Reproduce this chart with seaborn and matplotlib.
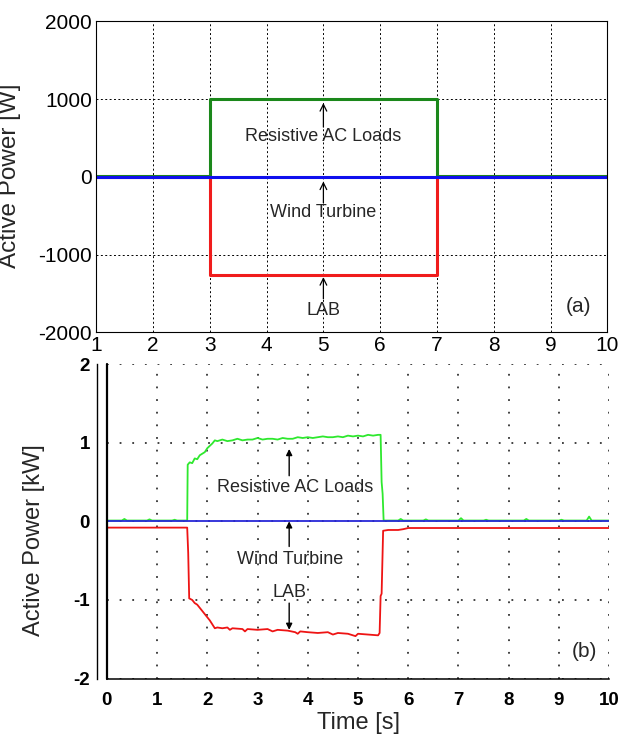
import matplotlib
matplotlib.use("Agg")
import matplotlib.pyplot as plt
import seaborn as sns

# ---- panel (a): simulation, values in W ----
t_a = [1, 3, 3, 7, 7, 10]
loads_a = [15, 15, 1000, 1000, 15, 15]
lab_a = [0, 0, -1260, -1260, 0, 0]
wind_a_t = [1, 10]
wind_a = [0, 0]

# ---- panel (b): experiment, values in kW ----
t_loads_b = [0.0, 0.3, 0.35, 0.4, 0.8, 0.85, 0.9, 1.3, 1.35, 1.4, 1.6, 1.61, 1.65, 1.7,
             1.75, 1.8, 1.85, 1.9, 1.95, 2.0, 2.05, 2.1, 2.15, 2.2, 2.3, 2.4, 2.5, 2.6,
             2.7, 2.8, 2.9, 3.0, 3.1, 3.2, 3.3, 3.4, 3.5, 3.6, 3.7, 3.8, 3.9, 4.0, 4.1,
             4.2, 4.3, 4.4, 4.5, 4.6, 4.7, 4.8, 4.9, 5.0, 5.1, 5.2, 5.3, 5.4, 5.45,
             5.47, 5.49, 5.51, 5.8, 5.85, 5.9, 6.3, 6.35, 6.4, 7.0, 7.05, 7.1, 7.5,
             7.55, 7.6, 8.3, 8.35, 8.4, 9.0, 9.05, 9.1, 9.55, 9.6, 9.65, 10.0]
loads_b = [0.01, 0.01, 0.03, 0.01, 0.01, 0.025, 0.01, 0.01, 0.02, 0.01, 0.01, 0.72, 0.75,
           0.74, 0.80, 0.79, 0.84, 0.86, 0.88, 0.93, 0.96, 0.99, 1.03, 1.02, 1.04, 1.02,
           1.03, 1.05, 1.03, 1.04, 1.04, 1.06, 1.04, 1.05, 1.05, 1.04, 1.06, 1.05, 1.05,
           1.07, 1.06, 1.07, 1.06, 1.07, 1.08, 1.07, 1.07, 1.08, 1.07, 1.09, 1.08, 1.09,
           1.08, 1.10, 1.09, 1.10, 1.10, 0.50, 0.35, 0.01, 0.01, 0.03, 0.01, 0.01, 0.025,
           0.01, 0.01, 0.04, 0.01, 0.01, 0.02, 0.01, 0.01, 0.03, 0.01, 0.01, 0.02, 0.01,
           0.01, 0.06, 0.01, 0.01]

t_lab_b = [0.0, 1.6, 1.62, 1.64, 1.7, 1.75, 1.8, 1.85, 1.9, 1.95, 2.0, 2.05, 2.1, 2.15,
           2.2, 2.3, 2.4, 2.45, 2.5, 2.7, 2.75, 2.8, 3.0, 3.2, 3.3, 3.4, 3.6, 3.75, 3.8,
           3.85, 4.0, 4.2, 4.4, 4.5, 4.6, 4.8, 4.95, 5.0, 5.2, 5.4, 5.43, 5.45, 5.47,
           5.5, 5.6, 5.8, 5.9, 6.0, 10.0]
lab_b = [-0.08, -0.08, -0.40, -0.98, -1.00, -1.04, -1.06, -1.10, -1.14, -1.18, -1.22,
         -1.26, -1.31, -1.36, -1.35, -1.36, -1.35, -1.38, -1.36, -1.37, -1.40, -1.37,
         -1.38, -1.37, -1.40, -1.38, -1.39, -1.41, -1.43, -1.40, -1.41, -1.42, -1.41,
         -1.44, -1.42, -1.43, -1.46, -1.43, -1.44, -1.45, -1.42, -0.95, -0.92, -0.12,
         -0.11, -0.11, -0.10, -0.085, -0.085]

wind_b_t = [0, 10]
wind_b = [0, 0]

sns.set_theme(style="white")
plt.rcParams["font.family"] = ["Liberation Sans", "DejaVu Sans"]
plt.rcParams["axes.unicode_minus"] = False

fig = plt.figure(figsize=(6.21, 7.40), dpi=100)
ax1 = fig.add_axes([0.155, 0.551, 0.823, 0.420])
ax2 = fig.add_axes([0.172, 0.083, 0.809, 0.425])

# ---------- (a) ----------
sns.lineplot(x=t_a, y=loads_a, ax=ax1, color="#1b881b", lw=2.2, sort=False, estimator=None)
sns.lineplot(x=t_a, y=lab_a, ax=ax1, color="#f01c1c", lw=2.2, sort=False, estimator=None)
sns.lineplot(x=wind_a_t, y=wind_a, ax=ax1, color="#1010ee", lw=2.2, sort=False, estimator=None)

ax1.set_xlim(1, 10)
ax1.set_ylim(-2000, 2000)
ax1.set_xticks(range(1, 11))
ax1.set_yticks([-2000, -1000, 0, 1000, 2000])
ax1.grid(True, color="black", linestyle=(0, (2, 2.5)), linewidth=0.7)
for s in ax1.spines.values():
    s.set_visible(True)
    s.set_color("black")
    s.set_linewidth(0.8)
ax1.tick_params(axis="both", direction="in", length=3, labelsize=15, pad=3, colors="black")
ax1.set_ylabel("Active Power [W]", fontsize=17.5)
ax1.yaxis.set_label_coords(-0.147, 0.505)
ax1.set_xlabel("")

arr_a = dict(arrowstyle="->", color="black", lw=0.9, shrinkA=0, shrinkB=0)
ax1.annotate("", xy=(5, 950), xytext=(5, 640), arrowprops=arr_a)
ax1.text(5, 513, "Resistive AC Loads", ha="center", va="center", fontsize=13)
ax1.annotate("", xy=(5, -60), xytext=(5, -335), arrowprops=arr_a)
ax1.text(5, -455, "Wind Turbine", ha="center", va="center", fontsize=13)
ax1.annotate("", xy=(5, -1290), xytext=(5, -1570), arrowprops=arr_a)
ax1.text(5, -1720, "LAB", ha="center", va="center", fontsize=13)
ax1.text(9.5, -1670, "(a)", ha="center", va="center", fontsize=15)

# ---------- (b) ----------
sns.lineplot(x=t_loads_b, y=loads_b, ax=ax2, color="#2ee82e", lw=1.3, sort=False, estimator=None)
sns.lineplot(x=t_lab_b, y=lab_b, ax=ax2, color="#ee1414", lw=1.3, sort=False, estimator=None)
sns.lineplot(x=wind_b_t, y=wind_b, ax=ax2, color="#2828d8", lw=1.3, sort=False, estimator=None)

ax2.set_xlim(0, 10)
ax2.set_ylim(-2, 2)
ax2.set_xticks(range(0, 11))
ax2.set_xticks([i + 0.5 for i in range(10)], minor=True)
ax2.set_yticks([-2, -1, 0, 1, 2])
ax2.set_yticks([-1.5, -0.5, 0.5, 1.5], minor=True)
ax2.grid(True, which="major", color="#333333", linestyle=(0, (1, 6)), linewidth=1.3)
ax2.spines["top"].set_visible(False)
ax2.spines["right"].set_visible(False)
# outer y-axis line with ticks, set a little apart from the plot edge
ax2.spines["left"].set_position(("outward", 7.2))
ax2.spines["left"].set_color("black")
ax2.spines["left"].set_linewidth(1.0)
ax2.spines["bottom"].set_color("black")
ax2.spines["bottom"].set_linewidth(1.1)
# inner plot edge at t = 0
ax2.axvline(0, color="black", lw=1.6, clip_on=False, zorder=3)
ax2.tick_params(axis="x", which="both", direction="inout", length=6, width=1.1, colors="black")
ax2.tick_params(axis="y", which="both", direction="out", length=2.5, width=1.0, colors="black")
ax2.tick_params(axis="x", which="major", labelsize=13.5, pad=7)
ax2.tick_params(axis="y", which="major", labelsize=13.5, pad=2.5)
for lab in ax2.get_xticklabels() + ax2.get_yticklabels():
    lab.set_fontweight("bold")
ax2.set_ylabel("Active Power [kW]", fontsize=17)
ax2.yaxis.set_label_coords(-0.124, 0.44)
ax2.set_xlabel("Time [s]", fontsize=17, labelpad=2)

arr_b = dict(arrowstyle="-|>", color="black", lw=1.0, shrinkA=0, shrinkB=0, mutation_scale=9)
ax2.annotate("", xy=(3.63, 0.92), xytext=(3.63, 0.58), arrowprops=arr_b)
ax2.text(3.75, 0.43, "Resistive AC Loads", ha="center", va="center", fontsize=13)
ax2.annotate("", xy=(3.63, 0.0), xytext=(3.63, -0.32), arrowprops=arr_b)
ax2.text(3.65, -0.48, "Wind Turbine", ha="center", va="center", fontsize=13)
ax2.annotate("", xy=(3.63, -1.38), xytext=(3.63, -1.04), arrowprops=arr_b)
ax2.text(3.63, -0.9, "LAB", ha="center", va="center", fontsize=13)
ax2.text(9.5, -1.66, "(b)", ha="center", va="center", fontsize=15)

fig.savefig("out.png", dpi=100)
